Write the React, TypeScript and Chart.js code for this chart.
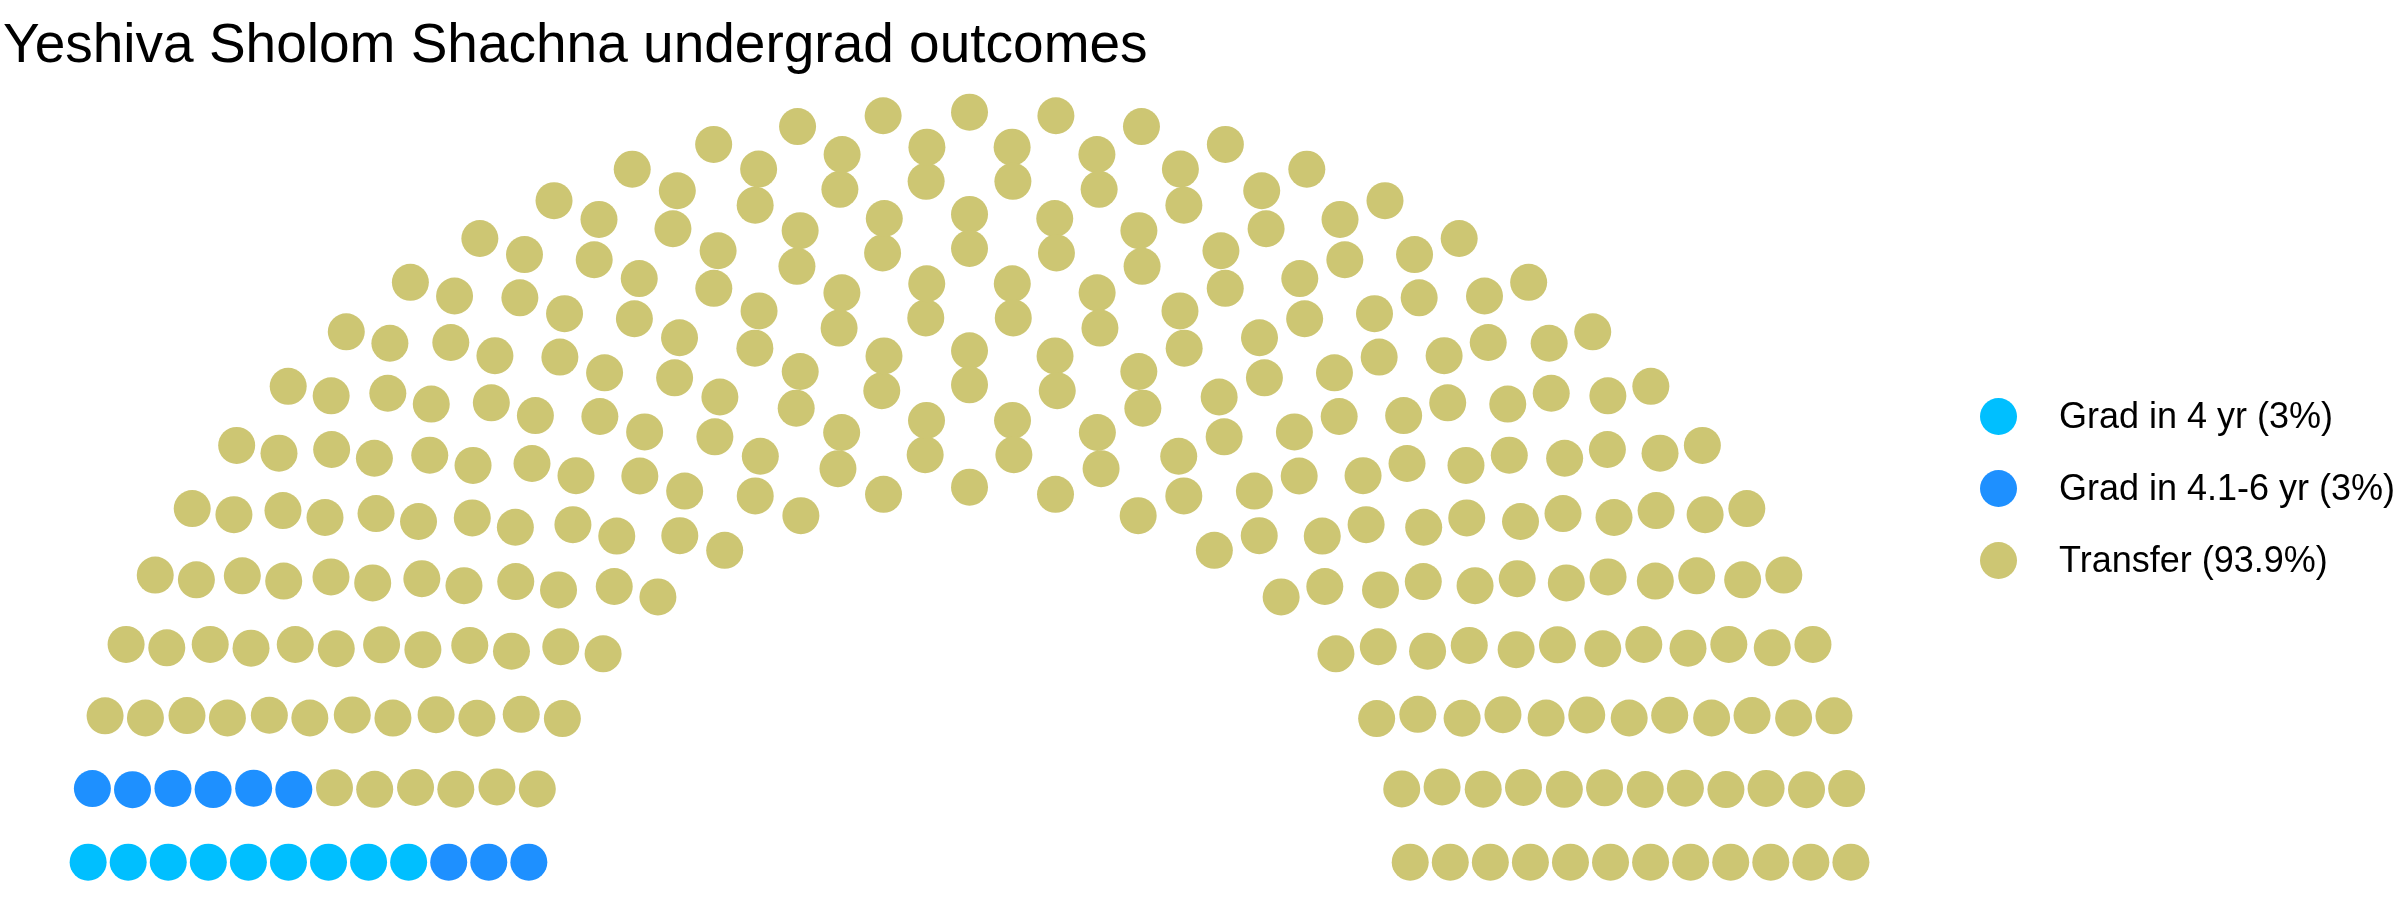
import { useEffect, useRef } from 'react';
import { Chart, ScatterController, PointElement, LinearScale } from 'chart.js';

Chart.register(ScatterController, PointElement, LinearScale);

const partyNames = ['Grad in 4 yr', 'Grad in 4.1-6 yr', 'Transfer'];
const partySeats = [9, 9, 282];
const partyShares = [3, 3, 93.9];
const partyColors = ['#00BFFF', '#1E90FF', '#CDC673'];
const parlRows = 12;

const chartTitle = 'Yeshiva Sholom Shachna undergrad outcomes';
const FONT = '"Liberation Sans", Arial, Helvetica, sans-serif';

interface Seat {
  x: number;
  y: number;
  row: number;
  theta: number;
}

// semicircle layout: rows from radius 1 to 2, seats per row by relative radius
function semicircleSeats(total: number, rows: number): Seat[] {
  const radii = Array.from({ length: rows }, (_, i) => 1 + i / (rows - 1));
  const sumR = radii.reduce((a, b) => a + b, 0);
  const pts: Seat[] = [];
  radii.forEach((r, i) => {
    const n = Math.round((total * r) / sumR);
    for (let k = 0; k < n; k++) {
      const theta = n > 1 ? (Math.PI * k) / (n - 1) : 0;
      pts.push({ x: r * Math.cos(theta), y: r * Math.sin(theta), row: i, theta });
    }
  });
  // arrange by angle (left first), outer row first on ties
  pts.sort((a, b) => (Math.abs(b.theta - a.theta) > 1e-9 ? b.theta - a.theta : b.row - a.row));
  return pts.slice(0, total);
}

export default function App() {
  const canvasRef = useRef<HTMLCanvasElement | null>(null);

  useEffect(() => {
    if (!canvasRef.current) return;
    const total = partySeats.reduce((a, b) => a + b, 0);
    const seats = semicircleSeats(total, parlRows);

    let start = 0;
    const datasets = partyNames.map((name, i) => {
      const data = seats.slice(start, start + partySeats[i]).map(s => ({ x: s.x, y: s.y }));
      start += partySeats[i];
      return {
        label: name,
        data,
        backgroundColor: partyColors[i],
        borderWidth: 0,
        pointRadius: 18.5,
        pointHoverRadius: 18.5
      };
    });

    const chart = new Chart(canvasRef.current, {
      type: 'scatter',
      data: { datasets },
      options: {
        animation: false,
        responsive: false,
        events: [],
        layout: { padding: 0, autoPadding: false },
        plugins: {
          legend: { display: false },
          title: { display: false }
        },
        scales: {
          x: { type: 'linear', display: false, min: -2.2, max: 3.246 },
          y: { type: 'linear', display: false, min: -0.101, max: 2.299 }
        }
      }
    });

    return () => {
      chart.destroy();
    };
  }, []);

  return (
    <div style={{ position: 'fixed', left: 0, top: 0, width: 2400, height: 900, background: '#fff', fontFamily: FONT }}>
      <canvas ref={canvasRef} width={2400} height={900} style={{ position: 'absolute', left: 0, top: 0 }} />
      <div style={{ position: 'absolute', left: 3, top: 16, fontSize: 55, lineHeight: '55px', color: '#000', whiteSpace: 'nowrap' }}>
        {chartTitle}
      </div>
      <div style={{ position: 'absolute', left: 1980, top: 380 }}>
        {partyNames.map((name, i) => (
          <div key={name} style={{ display: 'flex', alignItems: 'center', height: 72 }}>
            <span style={{ display: 'inline-block', width: 37, height: 37, borderRadius: '50%', background: partyColors[i] }} />
            <span style={{ marginLeft: 42, fontSize: 36, lineHeight: '36px', color: '#000', whiteSpace: 'nowrap' }}>
              {`${name} (${partyShares[i]}%)`}
            </span>
          </div>
        ))}
      </div>
    </div>
  );
}
